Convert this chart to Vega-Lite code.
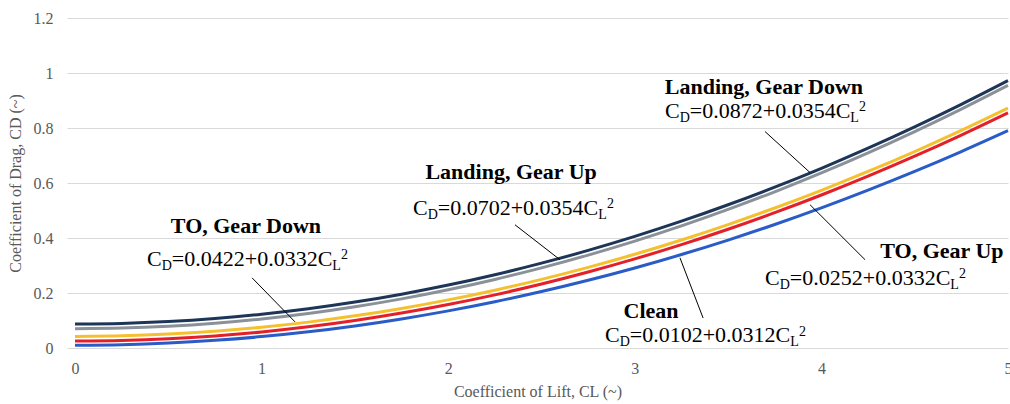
{
  "$schema": "https://vega.github.io/schema/vega-lite/v6.json",
  "autosize": {"type": "none"},
  "width": 941,
  "height": 330,
  "padding": {"left": 67, "top": 18, "right": 2, "bottom": 56},
  "background": "white",
  "config": {
    "view": {"stroke": null},
    "font": "Liberation Serif"
  },
  "datasets": {
    "curves": [
      {"series":"Clean","CL":0,"CD":0.0102},{"series":"Clean","CL":0.25,"CD":0.0122},{"series":"Clean","CL":0.5,"CD":0.0180},{"series":"Clean","CL":0.75,"CD":0.0278},{"series":"Clean","CL":1,"CD":0.0414},{"series":"Clean","CL":1.25,"CD":0.0590},{"series":"Clean","CL":1.5,"CD":0.0804},{"series":"Clean","CL":1.75,"CD":0.1058},{"series":"Clean","CL":2,"CD":0.1350},{"series":"Clean","CL":2.25,"CD":0.1682},{"series":"Clean","CL":2.5,"CD":0.2052},{"series":"Clean","CL":2.75,"CD":0.2462},{"series":"Clean","CL":3,"CD":0.2910},{"series":"Clean","CL":3.25,"CD":0.3398},{"series":"Clean","CL":3.5,"CD":0.3924},{"series":"Clean","CL":3.75,"CD":0.4490},{"series":"Clean","CL":4,"CD":0.5094},{"series":"Clean","CL":4.25,"CD":0.5738},{"series":"Clean","CL":4.5,"CD":0.6420},{"series":"Clean","CL":4.75,"CD":0.7142},{"series":"Clean","CL":5,"CD":0.7902},
      {"series":"TO, Gear Up","CL":0,"CD":0.0252},{"series":"TO, Gear Up","CL":0.25,"CD":0.0273},{"series":"TO, Gear Up","CL":0.5,"CD":0.0335},{"series":"TO, Gear Up","CL":0.75,"CD":0.0439},{"series":"TO, Gear Up","CL":1,"CD":0.0584},{"series":"TO, Gear Up","CL":1.25,"CD":0.0771},{"series":"TO, Gear Up","CL":1.5,"CD":0.0999},{"series":"TO, Gear Up","CL":1.75,"CD":0.1269},{"series":"TO, Gear Up","CL":2,"CD":0.1580},{"series":"TO, Gear Up","CL":2.25,"CD":0.1933},{"series":"TO, Gear Up","CL":2.5,"CD":0.2327},{"series":"TO, Gear Up","CL":2.75,"CD":0.2763},{"series":"TO, Gear Up","CL":3,"CD":0.3240},{"series":"TO, Gear Up","CL":3.25,"CD":0.3759},{"series":"TO, Gear Up","CL":3.5,"CD":0.4319},{"series":"TO, Gear Up","CL":3.75,"CD":0.4921},{"series":"TO, Gear Up","CL":4,"CD":0.5564},{"series":"TO, Gear Up","CL":4.25,"CD":0.6249},{"series":"TO, Gear Up","CL":4.5,"CD":0.6975},{"series":"TO, Gear Up","CL":4.75,"CD":0.7743},{"series":"TO, Gear Up","CL":5,"CD":0.8552},
      {"series":"TO, Gear Down","CL":0,"CD":0.0422},{"series":"TO, Gear Down","CL":0.25,"CD":0.0443},{"series":"TO, Gear Down","CL":0.5,"CD":0.0505},{"series":"TO, Gear Down","CL":0.75,"CD":0.0609},{"series":"TO, Gear Down","CL":1,"CD":0.0754},{"series":"TO, Gear Down","CL":1.25,"CD":0.0941},{"series":"TO, Gear Down","CL":1.5,"CD":0.1169},{"series":"TO, Gear Down","CL":1.75,"CD":0.1439},{"series":"TO, Gear Down","CL":2,"CD":0.1750},{"series":"TO, Gear Down","CL":2.25,"CD":0.2103},{"series":"TO, Gear Down","CL":2.5,"CD":0.2497},{"series":"TO, Gear Down","CL":2.75,"CD":0.2933},{"series":"TO, Gear Down","CL":3,"CD":0.3410},{"series":"TO, Gear Down","CL":3.25,"CD":0.3929},{"series":"TO, Gear Down","CL":3.5,"CD":0.4489},{"series":"TO, Gear Down","CL":3.75,"CD":0.5091},{"series":"TO, Gear Down","CL":4,"CD":0.5734},{"series":"TO, Gear Down","CL":4.25,"CD":0.6419},{"series":"TO, Gear Down","CL":4.5,"CD":0.7145},{"series":"TO, Gear Down","CL":4.75,"CD":0.7913},{"series":"TO, Gear Down","CL":5,"CD":0.8722},
      {"series":"Landing, Gear Up","CL":0,"CD":0.0702},{"series":"Landing, Gear Up","CL":0.25,"CD":0.0724},{"series":"Landing, Gear Up","CL":0.5,"CD":0.0791},{"series":"Landing, Gear Up","CL":0.75,"CD":0.0901},{"series":"Landing, Gear Up","CL":1,"CD":0.1056},{"series":"Landing, Gear Up","CL":1.25,"CD":0.1255},{"series":"Landing, Gear Up","CL":1.5,"CD":0.1499},{"series":"Landing, Gear Up","CL":1.75,"CD":0.1786},{"series":"Landing, Gear Up","CL":2,"CD":0.2118},{"series":"Landing, Gear Up","CL":2.25,"CD":0.2494},{"series":"Landing, Gear Up","CL":2.5,"CD":0.2915},{"series":"Landing, Gear Up","CL":2.75,"CD":0.3379},{"series":"Landing, Gear Up","CL":3,"CD":0.3888},{"series":"Landing, Gear Up","CL":3.25,"CD":0.4441},{"series":"Landing, Gear Up","CL":3.5,"CD":0.5039},{"series":"Landing, Gear Up","CL":3.75,"CD":0.5680},{"series":"Landing, Gear Up","CL":4,"CD":0.6366},{"series":"Landing, Gear Up","CL":4.25,"CD":0.7096},{"series":"Landing, Gear Up","CL":4.5,"CD":0.7871},{"series":"Landing, Gear Up","CL":4.75,"CD":0.8689},{"series":"Landing, Gear Up","CL":5,"CD":0.9552},
      {"series":"Landing, Gear Down","CL":0,"CD":0.0872},{"series":"Landing, Gear Down","CL":0.25,"CD":0.0894},{"series":"Landing, Gear Down","CL":0.5,"CD":0.0961},{"series":"Landing, Gear Down","CL":0.75,"CD":0.1071},{"series":"Landing, Gear Down","CL":1,"CD":0.1226},{"series":"Landing, Gear Down","CL":1.25,"CD":0.1425},{"series":"Landing, Gear Down","CL":1.5,"CD":0.1669},{"series":"Landing, Gear Down","CL":1.75,"CD":0.1956},{"series":"Landing, Gear Down","CL":2,"CD":0.2288},{"series":"Landing, Gear Down","CL":2.25,"CD":0.2664},{"series":"Landing, Gear Down","CL":2.5,"CD":0.3085},{"series":"Landing, Gear Down","CL":2.75,"CD":0.3549},{"series":"Landing, Gear Down","CL":3,"CD":0.4058},{"series":"Landing, Gear Down","CL":3.25,"CD":0.4611},{"series":"Landing, Gear Down","CL":3.5,"CD":0.5209},{"series":"Landing, Gear Down","CL":3.75,"CD":0.5850},{"series":"Landing, Gear Down","CL":4,"CD":0.6536},{"series":"Landing, Gear Down","CL":4.25,"CD":0.7266},{"series":"Landing, Gear Down","CL":4.5,"CD":0.8041},{"series":"Landing, Gear Down","CL":4.75,"CD":0.8859},{"series":"Landing, Gear Down","CL":5,"CD":0.9722}
    ],
    "notes": [
      {"name":"TO, Gear Down","eq":"=0.0422+0.0332C","lx":0.916,"ly":0.444,"ex":0.386,"ey":0.324,"x1":0.949,"y1":0.255,"x2":1.179,"y2":0.095},
      {"name":"Landing, Gear Up","eq":"=0.0702+0.0354C","lx":2.337,"ly":0.641,"ex":1.811,"ey":0.510,"x1":2.358,"y1":0.448,"x2":2.599,"y2":0.321},
      {"name":"Landing, Gear Down","eq":"=0.0872+0.0354C","lx":3.692,"ly":0.951,"ex":3.162,"ey":0.863,"x1":3.698,"y1":0.787,"x2":3.939,"y2":0.638},
      {"name":"TO, Gear Up","eq":"=0.0252+0.0332C","lx":4.646,"ly":0.353,"ex":3.698,"ey":0.255,"x1":3.939,"y1":0.521,"x2":4.234,"y2":0.321},
      {"name":"Clean","eq":"=0.0102+0.0312C","lx":3.087,"ly":0.138,"ex":2.840,"ey":0.047,"x1":3.242,"y1":0.328,"x2":3.366,"y2":0.109}
    ]
  },
  "layer": [
    {
      "data": {"name": "curves"},
      "mark": {"type": "line", "strokeWidth": 3, "interpolate": "monotone"},
      "encoding": {
        "x": {
          "field": "CL", "type": "quantitative",
          "scale": {"domain": [-0.043, 5], "nice": false, "zero": false},
          "axis": {
            "values": [0, 1, 2, 3, 4, 5], "format": "d", "labelFlush": false,
            "title": "Coefficient of Lift, CL (~)",
            "grid": false, "domain": false, "ticks": false,
            "labelFont": "Liberation Serif", "labelFontSize": 16, "labelColor": "#595959", "labelPadding": 12,
            "titleFont": "Liberation Serif", "titleFontSize": 16, "titleFontWeight": "normal", "titleColor": "#595959", "titlePadding": 7
          }
        },
        "y": {
          "field": "CD", "type": "quantitative",
          "scale": {"domain": [0, 1.2], "nice": false},
          "axis": {
            "values": [0, 0.2, 0.4, 0.6, 0.8, 1, 1.2], "format": ".1~f",
            "title": "Coefficient of Drag, CD (~)",
            "grid": true, "gridColor": "#d9d9d9", "gridWidth": 1,
            "domain": false, "ticks": false,
            "labelFont": "Liberation Serif", "labelFontSize": 16, "labelColor": "#595959", "labelPadding": 14,
            "titleFont": "Liberation Serif", "titleFontSize": 16, "titleFontWeight": "normal", "titleColor": "#595959", "titlePadding": 10
          }
        },
        "color": {
          "field": "series", "type": "nominal", "legend": null,
          "scale": {
            "domain": ["Clean", "TO, Gear Up", "TO, Gear Down", "Landing, Gear Up", "Landing, Gear Down"],
            "range": ["#2a5cc8", "#e3202a", "#f5c030", "#8a9198", "#1d3557"]
          }
        },
        "detail": {"field": "series"}
      }
    },
    {
      "data": {"name": "notes"},
      "mark": {"type": "rule", "color": "#000000", "strokeWidth": 1},
      "encoding": {
        "x": {"field": "x1", "type": "quantitative"},
        "y": {"field": "y1", "type": "quantitative"},
        "x2": {"field": "x2"},
        "y2": {"field": "y2"}
      }
    },
    {
      "data": {"name": "notes"},
      "mark": {"type": "text", "font": "Liberation Serif", "fontSize": 22, "fontWeight": "bold", "color": "#000000", "align": "center", "baseline": "alphabetic", "dy": 7.5},
      "encoding": {
        "x": {"field": "lx", "type": "quantitative"},
        "y": {"field": "ly", "type": "quantitative"},
        "text": {"field": "name"}
      }
    },
    {
      "data": {"name": "notes"},
      "mark": {"type": "text", "font": "Liberation Serif", "fontSize": 22, "color": "#000000", "align": "left", "baseline": "alphabetic", "dy": 7},
      "encoding": {
        "x": {"field": "ex", "type": "quantitative"},
        "y": {"field": "ey", "type": "quantitative"},
        "text": {"value": "C"}
      }
    },
    {
      "data": {"name": "notes"},
      "mark": {"type": "text", "font": "Liberation Serif", "fontSize": 14, "color": "#000000", "align": "left", "baseline": "alphabetic", "dx": 14.7, "dy": 11},
      "encoding": {
        "x": {"field": "ex", "type": "quantitative"},
        "y": {"field": "ey", "type": "quantitative"},
        "text": {"value": "D"}
      }
    },
    {
      "data": {"name": "notes"},
      "mark": {"type": "text", "font": "Liberation Serif", "fontSize": 22, "color": "#000000", "align": "left", "baseline": "alphabetic", "dx": 24.8, "dy": 7},
      "encoding": {
        "x": {"field": "ex", "type": "quantitative"},
        "y": {"field": "ey", "type": "quantitative"},
        "text": {"field": "eq"}
      }
    },
    {
      "data": {"name": "notes"},
      "mark": {"type": "text", "font": "Liberation Serif", "fontSize": 14, "color": "#000000", "align": "left", "baseline": "alphabetic", "dx": 185.3, "dy": 11},
      "encoding": {
        "x": {"field": "ex", "type": "quantitative"},
        "y": {"field": "ey", "type": "quantitative"},
        "text": {"value": "L"}
      }
    },
    {
      "data": {"name": "notes"},
      "mark": {"type": "text", "font": "Liberation Serif", "fontSize": 14, "color": "#000000", "align": "left", "baseline": "alphabetic", "dx": 194, "dy": 0.5},
      "encoding": {
        "x": {"field": "ex", "type": "quantitative"},
        "y": {"field": "ey", "type": "quantitative"},
        "text": {"value": "2"}
      }
    }
  ]
}
